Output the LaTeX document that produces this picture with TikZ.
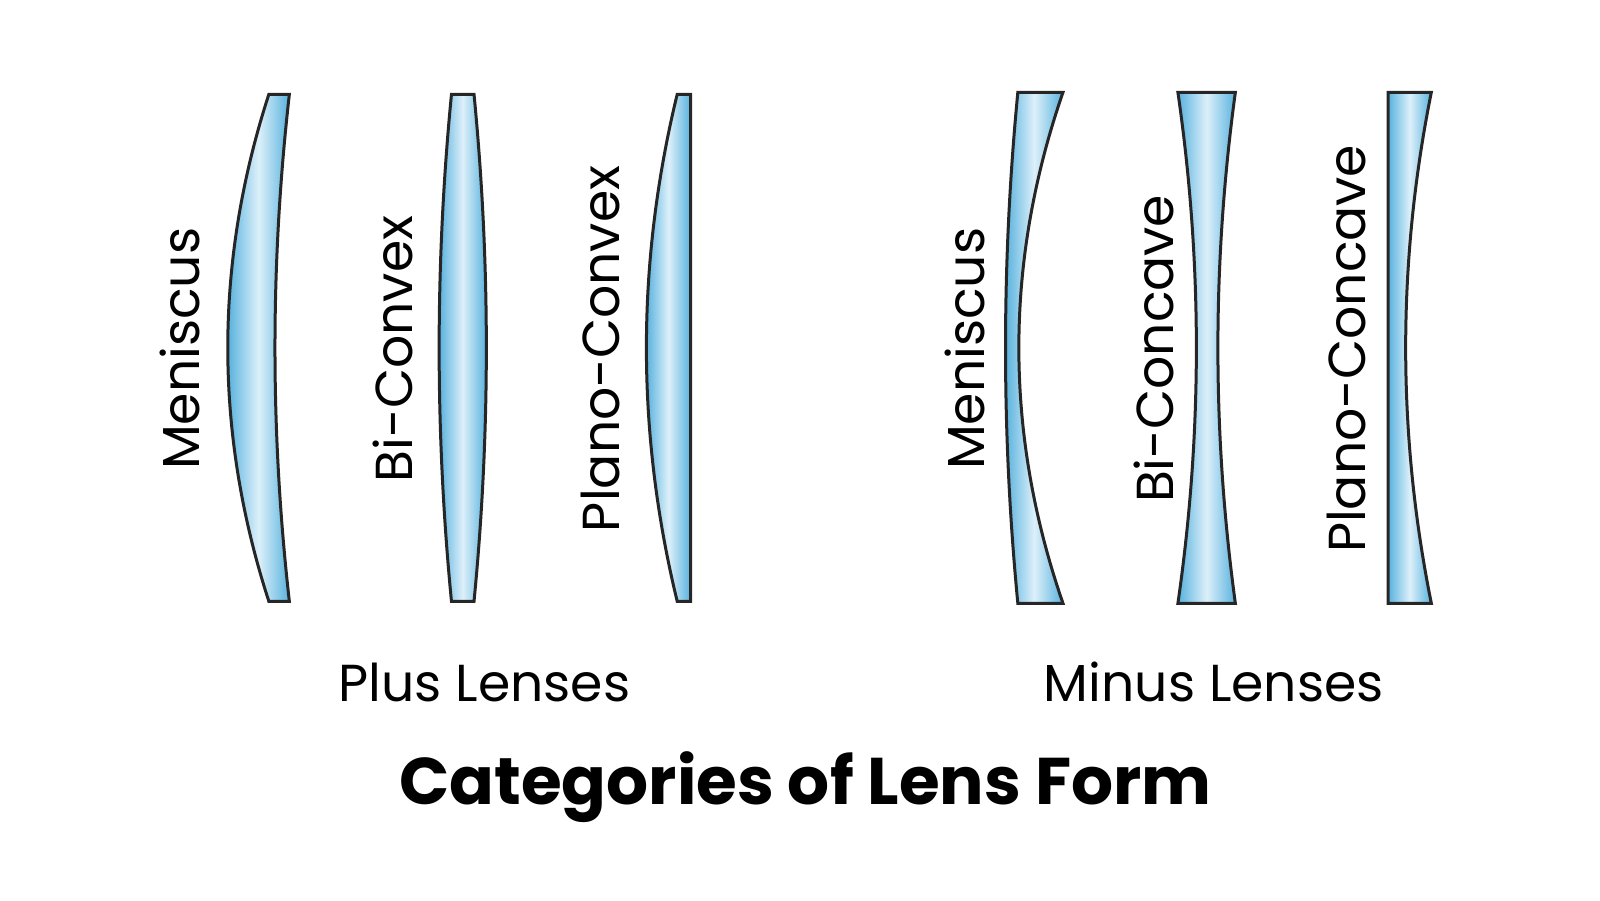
\documentclass[tikz,border=0pt]{standalone}
\usepackage{fontspec}
\setmainfont{Poppins}
\begin{document}
\begin{tikzpicture}[x=1.026pt,y=-1.026pt,
  lens/.style={draw=black!85,line width=3pt,line join=miter,left color=lensblue,right color=lensblue,middle color=lenslight,shading angle=90},
  lbl/.style={font=\fontsize{52}{58}\selectfont,rotate=90,anchor=center},
  grp/.style={font=\fontsize{52}{58}\selectfont,anchor=center}]
\definecolor{lensblue}{HTML}{58B2DE}
\definecolor{lenslight}{HTML}{DDF0FA}
\useasboundingbox (0,0) rectangle (1559.4,877.2);
% plus
\path[lens] (262,92) -- (282,92) .. controls (272.7,174.3) and (268,256.7) .. (268,339) .. controls (268,421.3) and (272.7,503.7) .. (282,586) -- (262,586) .. controls (235.3,503.7) and (222,421.3) .. (222,339) .. controls (222,256.7) and (235.3,174.3) .. (262,92) -- cycle;
\path[lens] (440,92) -- (462,92) .. controls (470,174.3) and (474,256.7) .. (474,339) .. controls (474,421.3) and (470,503.7) .. (462,586) -- (440,586) .. controls (432,503.7) and (428,421.3) .. (428,339) .. controls (428,256.7) and (432,174.3) .. (440,92) -- cycle;
\path[lens] (660,92) -- (673,92) -- (673,586) -- (660,586) .. controls (640,503.7) and (630,421.3) .. (630,339) .. controls (630,256.7) and (640,174.3) .. (660,92) -- cycle;
% minus
\path[lens] (992,90) -- (1036,90) .. controls (1007.3,173) and (993,256) .. (993,339) .. controls (993,422) and (1007.3,505) .. (1036,588) -- (992,588) .. controls (984,505) and (980,422) .. (980,339) .. controls (980,256) and (984,173) .. (992,90) -- cycle;
\path[lens] (1148,90) -- (1204,90) .. controls (1192.7,173) and (1187,256) .. (1187,339) .. controls (1187,422) and (1192.7,505) .. (1204,588) -- (1148,588) .. controls (1160,505) and (1166,422) .. (1166,339) .. controls (1166,256) and (1160,173) .. (1148,90) -- cycle;
\path[lens] (1353,90) -- (1395,90) .. controls (1378.3,173) and (1370,256) .. (1370,339) .. controls (1370,422) and (1378.3,505) .. (1395,588) -- (1353,588) -- cycle;
\node[lbl] (t1) at (175,340) {Meniscus};
\node[lbl] (t2) at (383,340) {Bi-Convex};
\node[lbl] (t3) at (585,340) {Plano-Convex};
\node[lbl] (t4) at (940,340) {Meniscus};
\node[lbl] (t5) at (1125,340) {Bi-Concave};
\node[lbl] (t6) at (1312,340) {Plano-Concave};
\node[grp] (g1) at (472,665) {Plus Lenses};
\node[grp] (g2) at (1183,665) {Minus Lenses};
\node[font=\fontsize{66}{74}\selectfont\bfseries] (title) at (785,767) {Categories of Lens Form};
\end{tikzpicture}
\end{document}
